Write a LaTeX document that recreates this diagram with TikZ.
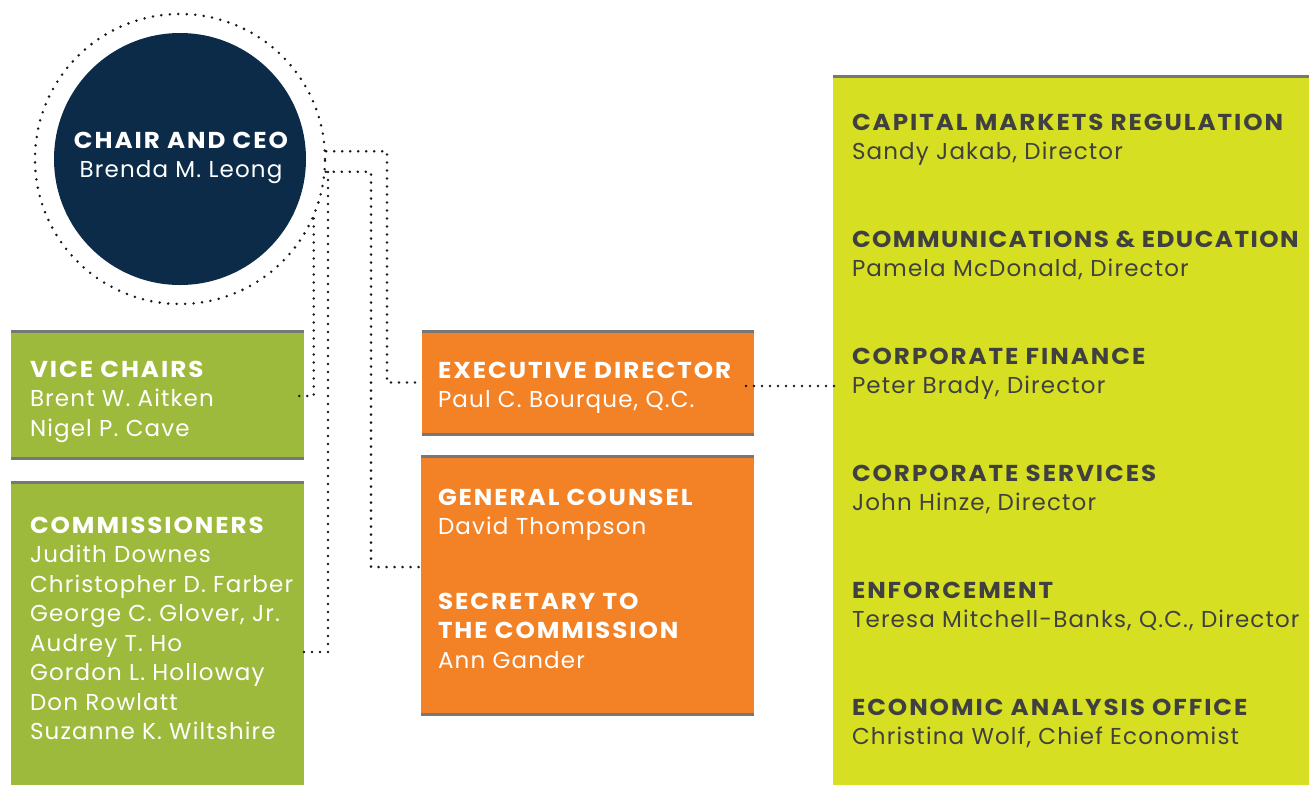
\documentclass[tikz,border=0pt]{standalone}
\usepackage{fontspec}
\setmainfont{Poppins}
\newfontfamily\HeadFont{Poppins}[LetterSpace=8.5, FakeStretch=1.07]
\newfontfamily\HeadFontTight{Poppins}[LetterSpace=6.3, FakeStretch=1.07]
\newfontfamily\NameFont{Poppins}[LetterSpace=5]
\definecolor{navy}{HTML}{0B2B48}
\definecolor{vgreen}{HTML}{9DBA3C}
\definecolor{orng}{HTML}{F38226}
\definecolor{lime}{HTML}{D6DF22}
\definecolor{bordgray}{HTML}{777777}
\definecolor{darktxt}{HTML}{404040}
\newcommand{\HeadTxt}[1]{{\HeadFont\bfseries #1}}
\newcommand{\HeadTxtT}[1]{{\HeadFontTight\bfseries #1}}
\newcommand{\NameTxt}[1]{{\NameFont #1}}
\newcommand{\Lines}[1]{\fontsize{23}{29.5}\selectfont\begin{tabular}[t]{@{}l@{}}#1\end{tabular}}
\begin{document}
\begin{tikzpicture}[x=1pt,y=-1pt,
  boxnode/.style={rectangle, anchor=north west, inner sep=0pt, outer sep=0pt},
  bord/.style={draw=bordgray, line width=3pt},
  dotline/.style={draw=black!90, line width=2.8pt, line cap=round, dash pattern=on 0pt off 8pt},
  txt/.style={anchor=base west, inner sep=0pt, outer sep=0pt, text=white},
  dtxt/.style={anchor=base west, inner sep=0pt, outer sep=0pt, text=darktxt}]
\useasboundingbox (0,0) rectangle (1309,785);
% boxes
\node[boxnode, fill=vgreen, minimum width=293pt, minimum height=127pt] (vc) at (11,331) {};
\node[boxnode, fill=vgreen, minimum width=293pt, minimum height=303pt] (comm) at (11,482) {};
\node[boxnode, fill=orng, minimum width=332pt, minimum height=103pt] (ed) at (422,331) {};
\node[boxnode, fill=orng, minimum width=333pt, minimum height=258pt] (gc) at (421,456) {};
\node[boxnode, fill=lime, minimum width=476pt, minimum height=709pt] (dept) at (833,76) {};
\draw[bord] (vc.north west) -- (vc.north east);
\draw[bord] (vc.south west) -- (vc.south east);
\draw[bord] (comm.north west) -- (comm.north east);
\draw[bord] (ed.north west) -- (ed.north east);
\draw[bord] (ed.south west) -- (ed.south east);
\draw[bord] (gc.north west) -- (gc.north east);
\draw[bord] (gc.south west) -- (gc.south east);
\draw[bord] (dept.north west) -- (dept.north east);
% chair
\node[circle, fill=navy, minimum size=252pt, inner sep=0pt] (chair) at (180,159) {};
\node[circle, dotline, dash pattern=on 0pt off 8.5pt, minimum size=290pt, inner sep=0pt] (ring) at (180,159) {};
\node[anchor=base, inner sep=0pt, text=white] (chairtxt) at (181,148)
  {\fontsize{23}{29.5}\selectfont\begin{tabular}[t]{@{}c@{}}\HeadTxt{CHAIR AND CEO}\\ \NameTxt{Brenda M. Leong}\end{tabular}};
% texts
\node[txt] (vctxt) at (30,377) {\Lines{\HeadTxt{VICE CHAIRS}\\ \NameTxt{Brent W. Aitken}\\ \NameTxt{Nigel P. Cave}}};
\node[txt] (commtxt) at (30,533) {\Lines{\HeadTxt{COMMISSIONERS}\\ \NameTxt{Judith Downes}\\ \NameTxt{Christopher D. Farber}\\ \NameTxt{George C. Glover, Jr.}\\ \NameTxt{Audrey T. Ho}\\ \NameTxt{Gordon L. Holloway}\\ \NameTxt{Don Rowlatt}\\ \NameTxt{Suzanne K. Wiltshire}}};
\node[txt] (edtxt) at (438,378) {\Lines{\HeadTxt{EXECUTIVE DIRECTOR}\\ \NameTxt{Paul C. Bourque, Q.C.}}};
\node[txt] (gctxt) at (438,505) {\Lines{\HeadTxt{GENERAL COUNSEL}\\ \NameTxt{David Thompson}}};
\node[txt] (sectxt) at (438,609) {\Lines{\HeadTxt{SECRETARY TO}\\ \HeadTxt{THE COMMISSION}\\ \NameTxt{Ann Gander}}};
\node[dtxt] (d1) at (852,130) {\Lines{\HeadTxt{CAPITAL MARKETS REGULATION}\\ \NameTxt{Sandy Jakab, Director}}};
\node[dtxt] (d2) at (852,247) {\Lines{\HeadTxtT{COMMUNICATIONS \& EDUCATION}\\ \NameTxt{Pamela McDonald, Director}}};
\node[dtxt] (d3) at (852,364) {\Lines{\HeadTxt{CORPORATE FINANCE}\\ \NameTxt{Peter Brady, Director}}};
\node[dtxt] (d4) at (852,481) {\Lines{\HeadTxt{CORPORATE SERVICES}\\ \NameTxt{John Hinze, Director}}};
\node[dtxt] (d5) at (852,598) {\Lines{\HeadTxt{ENFORCEMENT}\\ \NameTxt{Teresa Mitchell-Banks, Q.C., Director}}};
\node[dtxt] (d6) at (852,715) {\Lines{\HeadTxt{ECONOMIC ANALYSIS OFFICE}\\ \NameTxt{Christina Wolf, Chief Economist}}};
% connectors
\coordinate (jA) at (387,382.5);
\coordinate (jB) at (371,567);
\coordinate (gcin) at (424,567);
\coordinate (jC) at (328,172);
\coordinate (jD) at (328,652);
\coordinate (commin) at (298,652);
\coordinate (vcin) at (293,396);
\coordinate (edout) at (746,386);
\coordinate (deptin) at (838,386);
\draw[dotline] (ring.3.6) -| (jA) -- (ed.west);
\draw[dotline] (ring.-5.1) -| (jB) -- (gcin);
\draw[dotline] (ring.-24.4) |- (vcin);
\draw[dotline] (jC) -- (jD) -- (commin);
\draw[dotline] (edout) -- (deptin);
\end{tikzpicture}
\end{document}
